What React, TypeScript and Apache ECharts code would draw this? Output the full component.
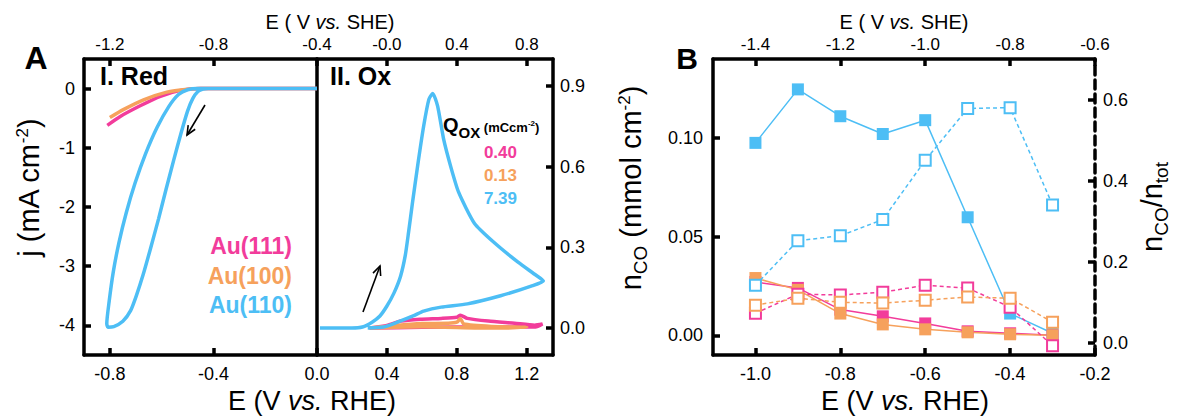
import { useEffect, useRef } from 'react';
import * as echarts from 'echarts';

const FONT = '"Liberation Sans", Arial, Helvetica, sans-serif';
const BLUE = '#4DBEF5';
const PINK = '#F23C9B';
const ORANGE = '#F6A15C';

// ---- Panel A, I. Red : [E vs RHE (V), j (mA cm-2)]
const redAu111: number[][] = [
  [-0.81, -0.62], [-0.76, -0.47], [-0.683, -0.29], [-0.605, -0.13], [-0.527, -0.03], [-0.45, 0], [0, 0],
];
const redAu100: number[][] = [
  [-0.8, -0.49], [-0.75, -0.36], [-0.67, -0.19], [-0.58, -0.06], [-0.5, -0.01], [-0.45, 0], [0, 0],
];
const redAu110: number[][] = [
  [0, 0], [-0.3, 0], [-0.42, 0], [-0.44, -0.01], [-0.46, -0.05], [-0.48, -0.17], [-0.5, -0.38],
  [-0.525, -0.75], [-0.553, -1.2], [-0.583, -1.7], [-0.612, -2.2], [-0.643, -2.7], [-0.672, -3.15],
  [-0.698, -3.5], [-0.72, -3.75], [-0.75, -3.93], [-0.785, -4.02], [-0.808, -4.03], [-0.812, -3.97],
  [-0.803, -3.6], [-0.787, -3.1], [-0.765, -2.6], [-0.737, -2.1], [-0.703, -1.6], [-0.662, -1.1],
  [-0.617, -0.65], [-0.572, -0.3], [-0.535, -0.1], [-0.5, -0.02], [-0.46, 0], [-0.3, 0],
];

// ---- Panel A, II. Ox : [E vs RHE (V), j (mA cm-2)]
const oxAu111: number[][] = [
  [0.3, 0], [0.4, 0.01], [0.48, 0.026], [0.59, 0.033], [0.71, 0.036], [0.8, 0.04], [0.82, 0.048],
  [0.86, 0.036], [0.98, 0.026], [1.13, 0.018], [1.245, 0.011], [1.29, 0.015], [1.25, 0.004],
  [1.0, 0.004], [0.6, 0.003], [0.3, 0],
];
const oxAu100: number[][] = [
  [0.3, 0], [0.45, 0.01], [0.6, 0.017], [0.75, 0.018], [0.8, 0.022], [0.82, 0.035], [0.84, 0.015],
  [1.0, 0.006], [1.2, 0.003], [1.0, 0.0], [0.6, 0.005], [0.3, 0],
];
const oxAu110: number[][] = [
  [0.017, 0], [0.2, 0], [0.26, 0.004], [0.315, 0.022], [0.36, 0.045], [0.4, 0.082], [0.44, 0.13],
  [0.478, 0.193], [0.505, 0.27], [0.524, 0.357], [0.545, 0.46],
  [0.575, 0.6], [0.61, 0.75], [0.64, 0.85], [0.662, 0.872], [0.69, 0.825], [0.725, 0.7], [0.765, 0.6],
  [0.81, 0.505], [0.9, 0.39], [1.01, 0.32], [1.15, 0.245], [1.245, 0.2], [1.295, 0.175],
  [1.225, 0.156], [1.05, 0.12], [0.86, 0.09], [0.71, 0.078], [0.61, 0.063], [0.55, 0.045],
  [0.46, 0.022], [0.38, 0.004], [0.29, 0],
];

// ---- Panel B
const potentialsB = [-1.0, -0.9, -0.8, -0.7, -0.6, -0.5, -0.4, -0.3];
const nCOAu110 = [0.0975, 0.1246, 0.111, 0.102, 0.109, 0.0598, 0.011, 0.001];
const nCOAu111 = [0.027, 0.024, 0.013, 0.0096, 0.006, 0.002, 0.001, 0.0];
const nCOAu100 = [0.029, 0.023, 0.011, 0.0055, 0.003, 0.0015, 0.0005, 0.0];
const ratioAu110 = [0.142, 0.252, 0.264, 0.304, 0.45, 0.578, 0.58, 0.34];
const ratioAu111 = [0.073, 0.12, 0.118, 0.125, 0.142, 0.135, 0.088, -0.007];
const ratioAu100 = [0.093, 0.11, 0.1, 0.098, 0.105, 0.113, 0.11, 0.051];

// ---- Ticks & labels
const redXTicks = [-0.8, -0.4, 0.0];
const redXLabels = ['-0.8', '-0.4', '0.0'];
const redXTopLabels = ['-1.2', '-0.8', '-0.4'];
const oxXTicks = [0.4, 0.8, 1.2];
const oxXLabels = ['0.4', '0.8', '1.2'];
const oxXTopLabels = ['-0.0', '0.4', '0.8'];
const jTicks = [-4, -3, -2, -1, 0];
const jLabels = ['-4', '-3', '-2', '-1', '0'];
const oxYTicks = [0, 0.3, 0.6, 0.9];
const oxYLabels = ['0.0', '0.3', '0.6', '0.9'];
const bXTicks = [-1.0, -0.8, -0.6, -0.4, -0.2];
const bXLabels = ['-1.0', '-0.8', '-0.6', '-0.4', '-0.2'];
const bXTopLabels = ['-1.4', '-1.2', '-1.0', '-0.8', '-0.6'];
const nTicks = [0, 0.05, 0.1];
const nLabels = ['0.00', '0.05', '0.10'];
const ratioTicks = [0, 0.2, 0.4, 0.6];
const ratioLabels = ['0.0', '0.2', '0.4', '0.6'];

const facetNames = ['Au(111)', 'Au(100)', 'Au(110)'];
const qoxValues = ['0.40', '0.13', '7.39'];
const facetColors = [PINK, ORANGE, BLUE];

function lookup(ticks: number[], labels: string[]) {
  return (v: number) => {
    const i = ticks.findIndex((t) => Math.abs(t - v) < 1e-7);
    return i >= 0 ? labels[i] : '';
  };
}

function mkAxis(o: {
  gridIndex: number; position: string; min: number; max: number;
  ticks?: number[]; labels?: string[] | null; fontSize?: number; margin?: number; dashed?: boolean;
}) {
  const ticks = o.ticks || [];
  return {
    type: 'value',
    gridIndex: o.gridIndex,
    position: o.position,
    min: o.min,
    max: o.max,
    axisLine: {
      show: true,
      onZero: false,
      lineStyle: { color: '#000', width: 3.5, type: o.dashed ? [9, 5] : 'solid' },
    },
    axisTick: {
      show: ticks.length > 0,
      inside: true,
      length: 7,
      customValues: ticks,
      lineStyle: { color: '#000', width: 3.5 },
    },
    axisLabel: {
      show: !!o.labels,
      customValues: ticks,
      formatter: o.labels ? lookup(ticks, o.labels) : undefined,
      color: '#000',
      fontFamily: FONT,
      fontSize: o.fontSize || 18,
      margin: o.margin ?? 9,
    },
    splitLine: { show: false },
  };
}

function cvSeries(data: number[][], color: string, xi: number, yi: number) {
  return {
    type: 'line',
    xAxisIndex: xi,
    yAxisIndex: yi,
    data,
    showSymbol: false,
    symbol: 'none',
    smooth: 0.2,
    lineStyle: { color, width: 3.5 },
    itemStyle: { color },
  };
}

function pointSeries(values: number[], color: string, yi: number, open: boolean) {
  return {
    type: 'line',
    xAxisIndex: 4,
    yAxisIndex: yi,
    data: potentialsB.map((x, i) => [x, values[i]]),
    symbol: 'rect',
    symbolSize: open ? 11 : 12,
    showSymbol: true,
    lineStyle: { color, width: 1.5, type: open ? [4, 3] : 'solid' },
    itemStyle: open
      ? { color: '#fff', borderColor: color, borderWidth: 2 }
      : { color, borderWidth: 0 },
    z: open ? 4 : 3,
  };
}

function arrow(x1: number, y1: number, x2: number, y2: number) {
  const dx = x2 - x1;
  const dy = y2 - y1;
  const len = Math.hypot(dx, dy);
  const ux = dx / len;
  const uy = dy / len;
  const h = 10;
  const a = 0.42;
  const p1 = [x2 - h * (ux * Math.cos(a) - uy * Math.sin(a)), y2 - h * (uy * Math.cos(a) + ux * Math.sin(a))];
  const p2 = [x2 - h * (ux * Math.cos(-a) - uy * Math.sin(-a)), y2 - h * (uy * Math.cos(-a) + ux * Math.sin(-a))];
  return [
    { type: 'line', shape: { x1, y1, x2, y2 }, style: { stroke: '#000', lineWidth: 1.6 } },
    { type: 'polyline', shape: { points: [p1, [x2, y2], p2] }, style: { stroke: '#000', lineWidth: 1.6, fill: 'none' } },
  ];
}

function txt(x: number, y: number, text: string, extra: any = {}, rich?: any, rotation = 0) {
  return {
    type: 'text',
    x,
    y,
    rotation,
    style: {
      text,
      fontFamily: FONT,
      fill: '#000',
      align: 'center',
      verticalAlign: 'middle',
      rich,
      ...extra,
    },
    z: 10,
  };
}

export default function App() {
  const ref = useRef<HTMLDivElement>(null);
  useEffect(() => {
    document.body.style.margin = '0';
    if (!ref.current) return;
    const chart = echarts.init(ref.current, undefined, { renderer: 'svg' });

    const titleRich = {
      t: { fontSize: 29, fontFamily: FONT, fill: '#000', lineHeight: 32, verticalAlign: 'top' },
      sup: { fontSize: 17, fontFamily: FONT, fill: '#000', lineHeight: 17, verticalAlign: 'top' },
      sub: { fontSize: 19, fontFamily: FONT, fill: '#000', lineHeight: 19, padding: [15, 0, 0, 0], verticalAlign: 'top' },
    };
    const eRich = (fs: number) => ({
      n: { fontSize: fs, fontFamily: FONT, fill: '#000' },
      i: { fontSize: fs, fontFamily: FONT, fill: '#000', fontStyle: 'italic' },
    });
    const qRich = {
      q: { fontSize: 20, fontWeight: 'bold', fontFamily: FONT, fill: '#000', lineHeight: 22, verticalAlign: 'top' },
      qs: { fontSize: 15, fontWeight: 'bold', fontFamily: FONT, fill: '#000', lineHeight: 15, padding: [10, 0, 0, 0], verticalAlign: 'top' },
      u: { fontSize: 13, fontWeight: 'bold', fontFamily: FONT, fill: '#000', lineHeight: 13, padding: [6, 0, 0, 0], verticalAlign: 'top' },
      us: { fontSize: 8, fontWeight: 'bold', fontFamily: FONT, fill: '#000', lineHeight: 8, padding: [4, 0, 0, 0], verticalAlign: 'top' },
    };

    const graphic: any[] = [
      txt(36, 58, 'A', { fontSize: 32, fontWeight: 'bold' }),
      txt(687, 58, 'B', { fontSize: 30, fontWeight: 'bold' }),
      txt(100, 76, 'I. Red', { fontSize: 25, fontWeight: 'bold', align: 'left' }),
      txt(330, 76, 'II. Ox', { fontSize: 25, fontWeight: 'bold', align: 'left' }),
      txt(330, 22, '{n|E ( V }{i|vs.}{n| SHE)}', {}, eRich(20)),
      txt(904, 22, '{n|E ( V }{i|vs.}{n| SHE)}', {}, eRich(20)),
      txt(312, 401, '{n|E (V }{i|vs.}{n| RHE)}', {}, eRich(27)),
      txt(905, 401, '{n|E (V }{i|vs.}{n| RHE)}', {}, eRich(27)),
      txt(30, 188, '{t|j (mA cm}{sup|-2}{t|)}', {}, titleRich, Math.PI / 2),
      txt(632, 188, '{t|n}{sub|CO}{t| (mmol cm}{sup|-2}{t|)}', {}, titleRich, Math.PI / 2),
      txt(1153, 207, '{t|n}{sub|CO}{t|/n}{sub|tot}', {}, titleRich, Math.PI / 2),
      txt(443, 126, '{q|Q}{qs|OX}{u| (mCcm}{us|-2}{u|)}', { align: 'left' }, qRich),
      ...facetNames.map((name, i) =>
        txt(292, 246 + i * 29.5, name, { fontSize: 23, fontWeight: 'bold', fill: facetColors[i], align: 'right' })
      ),
      ...qoxValues.map((v, i) =>
        txt(517, 152 + i * 23, v, { fontSize: 17, fontWeight: 'bold', fill: facetColors[i], align: 'right' })
      ),
      ...arrow(205, 105, 187, 135),
      ...arrow(363, 312, 380, 266),
    ];

    const option: any = {
      animation: false,
      backgroundColor: '#fff',
      grid: [
        { left: 84, top: 59, width: 233, height: 296, outerBoundsMode: 'none' },
        { left: 317, top: 59, width: 236, height: 296, outerBoundsMode: 'none' },
        { left: 713, top: 59, width: 382, height: 296, outerBoundsMode: 'none' },
      ],
      xAxis: [
        mkAxis({ gridIndex: 0, position: 'bottom', min: -0.9, max: 0, ticks: redXTicks, labels: redXLabels, margin: 10 }),
        mkAxis({ gridIndex: 0, position: 'top', min: -0.9, max: 0, ticks: redXTicks, labels: redXTopLabels, fontSize: 17, margin: 6 }),
        mkAxis({ gridIndex: 1, position: 'bottom', min: 0, max: 1.35, ticks: oxXTicks, labels: oxXLabels, margin: 10 }),
        mkAxis({ gridIndex: 1, position: 'top', min: 0, max: 1.35, ticks: oxXTicks, labels: oxXTopLabels, fontSize: 17, margin: 6 }),
        mkAxis({ gridIndex: 2, position: 'bottom', min: -1.1, max: -0.2, ticks: bXTicks, labels: bXLabels, margin: 10 }),
        mkAxis({ gridIndex: 2, position: 'top', min: -1.1, max: -0.2, ticks: bXTicks, labels: bXTopLabels, fontSize: 17, margin: 6 }),
      ],
      yAxis: [
        mkAxis({ gridIndex: 0, position: 'left', min: -4.5, max: 0.5, ticks: jTicks, labels: jLabels, margin: 9 }),
        mkAxis({ gridIndex: 1, position: 'left', min: -0.1, max: 1.0, ticks: [], labels: null }),
        mkAxis({ gridIndex: 1, position: 'right', min: -0.1, max: 1.0, ticks: oxYTicks, labels: oxYLabels, margin: 7 }),
        mkAxis({ gridIndex: 2, position: 'left', min: -0.01, max: 0.14, ticks: nTicks, labels: nLabels, margin: 10 }),
        mkAxis({ gridIndex: 2, position: 'right', min: -0.03, max: 0.7, ticks: ratioTicks, labels: ratioLabels, margin: 8, dashed: true }),
      ],
      series: [
        cvSeries(redAu111, PINK, 0, 0),
        cvSeries(redAu100, ORANGE, 0, 0),
        cvSeries(redAu110, BLUE, 0, 0),
        cvSeries(oxAu111, PINK, 2, 2),
        cvSeries(oxAu100, ORANGE, 2, 2),
        cvSeries(oxAu110, BLUE, 2, 2),
        pointSeries(nCOAu110, BLUE, 3, false),
        pointSeries(nCOAu111, PINK, 3, false),
        pointSeries(nCOAu100, ORANGE, 3, false),
        pointSeries(ratioAu110, BLUE, 4, true),
        pointSeries(ratioAu111, PINK, 4, true),
        pointSeries(ratioAu100, ORANGE, 4, true),
      ],
      graphic,
    };
    chart.setOption(option);
    return () => chart.dispose();
  }, []);
  return <div ref={ref} style={{ width: 1177, height: 416 }} />;
}
